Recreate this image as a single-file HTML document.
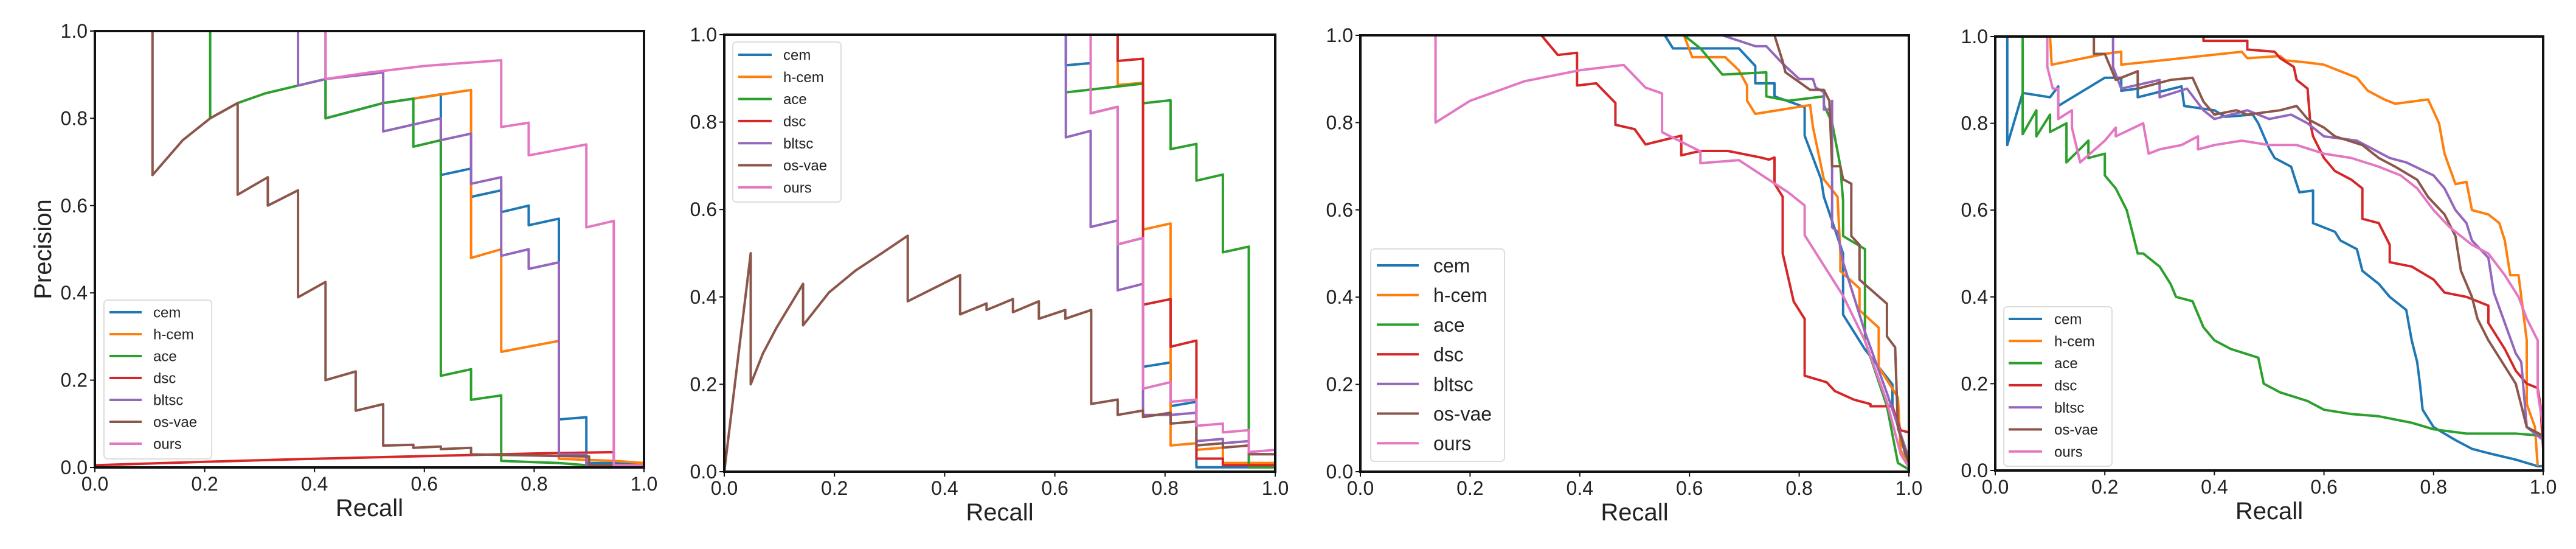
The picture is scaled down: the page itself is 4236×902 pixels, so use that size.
<!DOCTYPE html>
<html><head><meta charset="utf-8"><title>Precision-Recall curves</title>
<style>
html,body{margin:0;padding:0;background:#fff;}
svg{display:block;font-family:"Liberation Sans","DejaVu Sans",sans-serif;}
</style></head>
<body>
<svg id="fig" width="4236" height="902" viewBox="0 0 4236 902" xmlns="http://www.w3.org/2000/svg">
<rect width="4236" height="902" fill="#fff"/>
</svg>
<script>
// ---------- data (recall, precision) ----------
const seriesNames = ["cem","h-cem","ace","dsc","bltsc","os-vae","ours"];
const xTickLabels = ["0.0","0.2","0.4","0.6","0.8","1.0"];
const yTickLabels = ["0.0","0.2","0.4","0.6","0.8","1.0"];
const tickValues = [0,0.2,0.4,0.6,0.8,1.0];

// Panel 1
const p1_cem = [[0.42,1.0],[0.42,0.80],[0.525,0.835],[0.58,0.845],[0.63,0.855],[0.63,0.67],[0.685,0.685],[0.685,0.62],[0.74,0.635],[0.74,0.585],[0.79,0.60],[0.79,0.555],[0.845,0.57],[0.845,0.11],[0.895,0.115],[0.895,0.01],[1,0.01]];
const p1_hcem = [[0.58,0.845],[0.685,0.865],[0.685,0.48],[0.74,0.50],[0.74,0.265],[0.845,0.29],[0.845,0.02],[0.945,0.015],[1,0.01]];
const p1_ace = [[0.21,1.0],[0.21,0.80],[0.26,0.835],[0.31,0.857],[0.37,0.875],[0.42,0.89],[0.42,0.80],[0.525,0.835],[0.58,0.845],[0.58,0.735],[0.63,0.75],[0.63,0.21],[0.685,0.225],[0.685,0.155],[0.74,0.165],[0.74,0.015],[0.845,0.01],[0.895,0.005],[1,0.005]];
const p1_dsc = [[0,0.005],[0.2,0.013],[0.4,0.02],[0.6,0.026],[0.8,0.032],[0.945,0.035],[0.945,0.005],[1,0.005]];
const p1_bltsc = [[0.37,1.0],[0.37,0.875],[0.42,0.89],[0.525,0.905],[0.525,0.77],[0.63,0.80],[0.63,0.75],[0.685,0.765],[0.685,0.65],[0.74,0.665],[0.74,0.485],[0.79,0.50],[0.79,0.455],[0.845,0.47],[0.845,0.03],[0.895,0.03],[0.895,0.005],[1,0.005]];
const p1_osvae = [[0.105,1.0],[0.105,0.67],[0.16,0.75],[0.21,0.80],[0.26,0.835],[0.26,0.625],[0.315,0.665],[0.315,0.60],[0.37,0.635],[0.37,0.39],[0.42,0.425],[0.42,0.20],[0.475,0.22],[0.475,0.13],[0.525,0.145],[0.525,0.05],[0.58,0.052],[0.58,0.045],[0.63,0.048],[0.63,0.042],[0.685,0.045],[0.685,0.03],[0.9,0.025],[0.9,0.005],[1,0.005]];
const p1_ours = [[0.42,1.0],[0.42,0.89],[0.5,0.905],[0.6,0.92],[0.74,0.933],[0.74,0.78],[0.79,0.79],[0.79,0.715],[0.895,0.74],[0.895,0.55],[0.945,0.565],[0.945,0.005],[1,0.005]];

// Panel 2
const p2_cem = [[0.62,1.0],[0.62,0.93],[0.665,0.935],[0.665,0.82],[0.714,0.835],[0.714,0.52],[0.76,0.535],[0.76,0.24],[0.81,0.25],[0.81,0.15],[0.857,0.16],[0.857,0.01],[1,0.01]];
const p2_hcem = [[0.714,1.0],[0.714,0.885],[0.76,0.89],[0.76,0.554],[0.81,0.568],[0.81,0.06],[0.857,0.065],[0.857,0.05],[0.905,0.055],[0.905,0.02],[1,0.02]];
const p2_ace = [[0.62,0.868],[0.76,0.888],[0.76,0.843],[0.81,0.85],[0.81,0.738],[0.857,0.75],[0.857,0.666],[0.905,0.68],[0.905,0.502],[0.952,0.515],[0.952,0.01],[1,0.01]];
const p2_dsc = [[0.714,1.0],[0.714,0.94],[0.76,0.945],[0.76,0.382],[0.81,0.395],[0.81,0.286],[0.857,0.30],[0.857,0.03],[0.905,0.03],[0.905,0.015],[1,0.015]];
const p2_bltsc = [[0.62,1.0],[0.62,0.765],[0.665,0.78],[0.665,0.56],[0.714,0.575],[0.714,0.415],[0.76,0.43],[0.76,0.13],[0.81,0.13],[0.857,0.135],[0.857,0.07],[0.905,0.075],[0.905,0.065],[0.952,0.07],[0.952,0.04],[1,0.04]];
const p2_osvae = [[0,0],[0.048,0.50],[0.048,0.20],[0.07,0.27],[0.095,0.33],[0.143,0.43],[0.143,0.335],[0.19,0.41],[0.238,0.46],[0.286,0.50],[0.333,0.54],[0.333,0.39],[0.428,0.45],[0.428,0.36],[0.476,0.385],[0.476,0.37],[0.524,0.395],[0.524,0.365],[0.571,0.39],[0.571,0.35],[0.619,0.37],[0.619,0.35],[0.666,0.37],[0.666,0.155],[0.714,0.165],[0.714,0.13],[0.76,0.14],[0.76,0.125],[0.81,0.135],[0.81,0.11],[0.857,0.115],[0.857,0.06],[0.905,0.065],[0.905,0.055],[0.952,0.06],[0.952,0.04],[1,0.04]];
const p2_ours = [[0.665,1.0],[0.665,0.82],[0.714,0.835],[0.714,0.52],[0.76,0.535],[0.76,0.19],[0.81,0.205],[0.81,0.16],[0.857,0.165],[0.857,0.105],[0.905,0.11],[0.905,0.09],[0.952,0.095],[0.952,0.045],[1,0.05]];

// Panel 3
const p3_cem = [[0.555,1.0],[0.57,0.97],[0.69,0.97],[0.72,0.93],[0.72,0.89],[0.755,0.89],[0.755,0.86],[0.8,0.84],[0.81,0.835],[0.81,0.77],[0.84,0.67],[0.845,0.63],[0.88,0.5],[0.88,0.36],[0.92,0.28],[0.97,0.2],[0.97,0.15],[1.0,0.01]];
const p3_hcem = [[0.59,1.0],[0.605,0.95],[0.665,0.95],[0.69,0.92],[0.705,0.885],[0.705,0.85],[0.72,0.82],[0.82,0.84],[0.825,0.79],[0.845,0.67],[0.87,0.63],[0.875,0.5],[0.875,0.46],[0.91,0.42],[0.91,0.37],[0.945,0.33],[0.945,0.24],[0.98,0.17],[0.985,0.05],[1.0,0.01]];
const p3_ace = [[0.59,1.0],[0.62,0.97],[0.66,0.91],[0.74,0.915],[0.74,0.86],[0.78,0.85],[0.845,0.86],[0.845,0.84],[0.86,0.8],[0.875,0.7],[0.88,0.62],[0.88,0.54],[0.92,0.51],[0.92,0.3],[0.96,0.15],[0.98,0.02],[1.0,0.005]];
const p3_dsc = [[0.33,1.0],[0.36,0.955],[0.395,0.96],[0.395,0.885],[0.43,0.89],[0.465,0.845],[0.465,0.795],[0.5,0.785],[0.52,0.75],[0.585,0.77],[0.585,0.725],[0.62,0.735],[0.67,0.735],[0.73,0.72],[0.745,0.715],[0.755,0.72],[0.755,0.66],[0.77,0.63],[0.77,0.5],[0.79,0.39],[0.81,0.35],[0.81,0.22],[0.85,0.205],[0.865,0.185],[0.9,0.165],[0.93,0.155],[0.93,0.15],[0.97,0.15],[0.985,0.095],[1.0,0.09],[1.0,0.01]];
const p3_bltsc = [[0.66,1.0],[0.72,0.975],[0.74,0.975],[0.77,0.935],[0.8,0.9],[0.825,0.9],[0.83,0.88],[0.845,0.87],[0.845,0.83],[0.86,0.83],[0.86,0.85],[0.86,0.56],[0.87,0.55],[0.88,0.48],[0.92,0.32],[0.96,0.18],[1.0,0.03]];
const p3_osvae = [[0.755,1.0],[0.77,0.94],[0.775,0.915],[0.82,0.875],[0.845,0.875],[0.855,0.85],[0.86,0.7],[0.875,0.7],[0.88,0.67],[0.895,0.66],[0.895,0.54],[0.91,0.52],[0.91,0.44],[0.96,0.385],[0.96,0.31],[0.975,0.285],[0.98,0.1],[1.0,0.02]];
const p3_ours = [[0.137,1.0],[0.137,0.80],[0.2,0.85],[0.3,0.895],[0.4,0.92],[0.48,0.932],[0.52,0.88],[0.55,0.867],[0.55,0.778],[0.62,0.734],[0.62,0.707],[0.69,0.714],[0.78,0.64],[0.81,0.61],[0.81,0.542],[0.88,0.403],[0.92,0.30],[0.96,0.16],[0.985,0.04],[1.0,0.01]];

// Panel 4
const p4_cem = [[0.022,1.0],[0.022,0.75],[0.05,0.87],[0.1,0.86],[0.115,0.885],[0.115,0.84],[0.2,0.905],[0.23,0.905],[0.23,0.875],[0.26,0.88],[0.26,0.86],[0.34,0.885],[0.345,0.84],[0.4,0.83],[0.42,0.815],[0.47,0.82],[0.48,0.8],[0.5,0.742],[0.51,0.72],[0.54,0.7],[0.555,0.641],[0.58,0.645],[0.58,0.57],[0.62,0.55],[0.63,0.53],[0.66,0.51],[0.67,0.46],[0.7,0.43],[0.72,0.4],[0.75,0.37],[0.76,0.3],[0.77,0.25],[0.775,0.2],[0.78,0.14],[0.8,0.1],[0.84,0.07],[0.87,0.05],[0.9,0.04],[0.95,0.025],[0.99,0.01],[1.0,0.01]];
const p4_hcem = [[0.1,1.0],[0.103,0.935],[0.2,0.96],[0.23,0.965],[0.23,0.935],[0.45,0.965],[0.46,0.95],[0.52,0.955],[0.53,0.945],[0.57,0.94],[0.6,0.935],[0.63,0.92],[0.66,0.905],[0.68,0.875],[0.71,0.855],[0.73,0.845],[0.79,0.855],[0.81,0.8],[0.82,0.73],[0.84,0.66],[0.86,0.665],[0.87,0.6],[0.9,0.59],[0.92,0.57],[0.93,0.53],[0.94,0.45],[0.955,0.45],[0.97,0.3],[0.97,0.153],[0.985,0.1],[0.99,0.01]];
const p4_ace = [[0.05,1.0],[0.05,0.775],[0.075,0.83],[0.075,0.77],[0.1,0.82],[0.1,0.78],[0.13,0.8],[0.13,0.71],[0.17,0.76],[0.17,0.72],[0.2,0.73],[0.2,0.68],[0.22,0.65],[0.24,0.6],[0.25,0.55],[0.26,0.5],[0.27,0.5],[0.3,0.47],[0.32,0.43],[0.33,0.4],[0.36,0.39],[0.38,0.33],[0.4,0.3],[0.43,0.28],[0.48,0.26],[0.49,0.2],[0.52,0.18],[0.57,0.16],[0.6,0.14],[0.65,0.13],[0.7,0.125],[0.76,0.11],[0.8,0.095],[0.86,0.085],[0.95,0.085],[1.0,0.08]];
const p4_dsc = [[0.38,1.0],[0.38,0.99],[0.46,0.99],[0.46,0.97],[0.51,0.965],[0.52,0.95],[0.545,0.93],[0.55,0.9],[0.57,0.88],[0.575,0.8],[0.58,0.77],[0.6,0.72],[0.62,0.69],[0.65,0.67],[0.67,0.65],[0.67,0.58],[0.7,0.57],[0.72,0.52],[0.72,0.48],[0.76,0.47],[0.8,0.44],[0.82,0.41],[0.86,0.4],[0.9,0.38],[0.9,0.34],[0.93,0.28],[0.95,0.23],[0.97,0.2],[0.99,0.19],[0.995,0.15],[1.0,0.05]];
const p4_bltsc = [[0.215,1.0],[0.215,0.93],[0.23,0.88],[0.3,0.9],[0.3,0.86],[0.35,0.88],[0.38,0.83],[0.4,0.81],[0.46,0.83],[0.5,0.81],[0.54,0.82],[0.57,0.8],[0.6,0.77],[0.66,0.76],[0.72,0.72],[0.75,0.71],[0.8,0.68],[0.82,0.65],[0.84,0.6],[0.86,0.57],[0.87,0.53],[0.9,0.49],[0.91,0.41],[0.93,0.34],[0.95,0.27],[0.96,0.25],[0.97,0.1],[1.0,0.07]];
const p4_osvae = [[0.18,1.0],[0.18,0.96],[0.2,0.96],[0.22,0.9],[0.26,0.92],[0.26,0.88],[0.32,0.9],[0.36,0.905],[0.38,0.85],[0.4,0.82],[0.44,0.83],[0.46,0.82],[0.52,0.83],[0.55,0.84],[0.57,0.81],[0.6,0.79],[0.62,0.77],[0.67,0.75],[0.7,0.72],[0.73,0.7],[0.77,0.67],[0.79,0.63],[0.82,0.59],[0.84,0.54],[0.85,0.46],[0.87,0.4],[0.88,0.35],[0.9,0.3],[0.92,0.26],[0.95,0.2],[0.96,0.15],[0.97,0.1],[1.0,0.08]];
const p4_ours = [[0.095,1.0],[0.095,0.93],[0.105,0.88],[0.115,0.88],[0.115,0.81],[0.14,0.83],[0.14,0.79],[0.155,0.71],[0.2,0.76],[0.22,0.79],[0.22,0.77],[0.27,0.80],[0.28,0.73],[0.3,0.74],[0.34,0.75],[0.37,0.77],[0.37,0.74],[0.4,0.75],[0.45,0.76],[0.5,0.75],[0.55,0.75],[0.6,0.73],[0.65,0.72],[0.7,0.70],[0.74,0.68],[0.77,0.65],[0.8,0.6],[0.83,0.56],[0.87,0.52],[0.9,0.5],[0.93,0.45],[0.955,0.4],[0.97,0.35],[0.99,0.3],[0.99,0.18],[1.0,0.1]];

// ---------- layout / style (not data) ----------
const colors = ["#1f77b4","#ff7f0e","#2ca02c","#d62728","#9467bd","#8c564b","#e377c2"];
const panels = [
  {x0:156,x1:1059,y0:51,y1:768, series:[p1_cem,p1_hcem,p1_ace,p1_dsc,p1_bltsc,p1_osvae,p1_ours],
   leg:{x:171,y:493,w:177,h:261,first:513,step:36,lx1:180,lx2:233,tx:252,fs:24}, ylabel:true},
  {x0:1191,x1:2097,y0:57,y1:775, series:[p2_cem,p2_hcem,p2_ace,p2_dsc,p2_bltsc,p2_osvae,p2_ours],
   leg:{x:1205,y:69,w:178,h:263,first:90,step:36.3,lx1:1214,lx2:1269,tx:1288,fs:24}},
  {x0:2237,x1:3139,y0:58,y1:775, series:[p3_cem,p3_hcem,p3_ace,p3_dsc,p3_bltsc,p3_osvae,p3_ours],
   leg:{x:2254,y:409,w:220,h:349,first:436,step:48.7,lx1:2264,lx2:2333,tx:2357,fs:32}},
  {x0:3281,x1:4182,y0:60,y1:773, series:[p4_cem,p4_hcem,p4_ace,p4_dsc,p4_bltsc,p4_osvae,p4_ours],
   leg:{x:3295,y:504,w:178,h:262,first:524,step:36.3,lx1:3303,lx2:3358,tx:3378,fs:24}}
];

const NS = "http://www.w3.org/2000/svg";
const svg = document.getElementById("fig");
function mk(tag, attrs, parent){
  const e = document.createElementNS(NS, tag);
  for (const k in attrs) e.setAttribute(k, attrs[k]);
  (parent||svg).appendChild(e);
  return e;
}

panels.forEach((P, pi) => {
  const xs = v => P.x0 + v*(P.x1-P.x0);
  const ys = v => P.y1 - v*(P.y1-P.y0);
  const g = mk("g", {});
  
  
  const clipId = "clip"+pi;
  const cp = mk("clipPath", {id:clipId}, g);
  mk("rect", {x:P.x0, y:P.y0-3, width:P.x1-P.x0, height:P.y1-P.y0+6}, cp);

  // series
  P.series.forEach((pts, si) => {
    const d = pts.map((p,i)=>(i?"L":"M")+xs(p[0]).toFixed(1)+" "+ys(p[1]).toFixed(1)).join(" ");
    const path = mk("path", {d:d, fill:"none", stroke:colors[si], "stroke-width":4, "stroke-linejoin":"round", "clip-path":"url(#"+clipId+")"}, g);
    
    
  });

  // frame
  const fr = mk("rect", {x:P.x0, y:P.y0, width:P.x1-P.x0, height:P.y1-P.y0, fill:"none", stroke:"#111", "stroke-width":4}, g);
  
  

  // ticks
  tickValues.forEach((t, ti) => {
    const tx = xs(t), ty = ys(t);
    mk("line", {x1:tx, y1:P.y1, x2:tx, y2:P.y1+8, stroke:"#111","stroke-width":2}, g);
    mk("line", {x1:P.x0-8, y1:ty, x2:P.x0, y2:ty, stroke:"#111","stroke-width":2}, g);
    const xl = mk("text", {x:tx, y:P.y1+38, "text-anchor":"middle", "font-size":32, fill:"#222"}, g);
    xl.textContent = xTickLabels[ti];
    
    
    const yl = mk("text", {x:P.x0-12, y:ty+11, "text-anchor":"end", "font-size":32, fill:"#222"}, g);
    yl.textContent = yTickLabels[ti];
    
    
  });

  // axis titles
  const xt = mk("text", {x:(P.x0+P.x1)/2, y:P.y1+80, "text-anchor":"middle", "font-size":40, fill:"#222"}, g);
  xt.textContent = "Recall";
  
  
  if (P.ylabel){
    const yt = mk("text", {x:0, y:0, "text-anchor":"middle", "font-size":40, fill:"#222", transform:"translate(84,"+((P.y0+P.y1)/2)+") rotate(-90)"}, g);
    yt.textContent = "Precision";
    
    
  }

  // legend
  const L = P.leg;
  const lg = mk("g", {}, g);
  
  
  mk("rect", {x:L.x, y:L.y, width:L.w, height:L.h, rx:6, fill:"#fff", "fill-opacity":0.85, stroke:"#ddd", "stroke-width":2}, lg);
  seriesNames.forEach((name, si) => {
    const cy = L.first + si*L.step;
    const eg = mk("g", {}, lg);
    
    
    mk("line", {x1:L.lx1, y1:cy, x2:L.lx2, y2:cy, stroke:colors[si], "stroke-width":4}, eg);
    const t = mk("text", {x:L.tx, y:cy+L.fs*0.36, "font-size":L.fs, fill:"#222"}, eg);
    t.textContent = name;
  });
});
</script>
</body></html>
